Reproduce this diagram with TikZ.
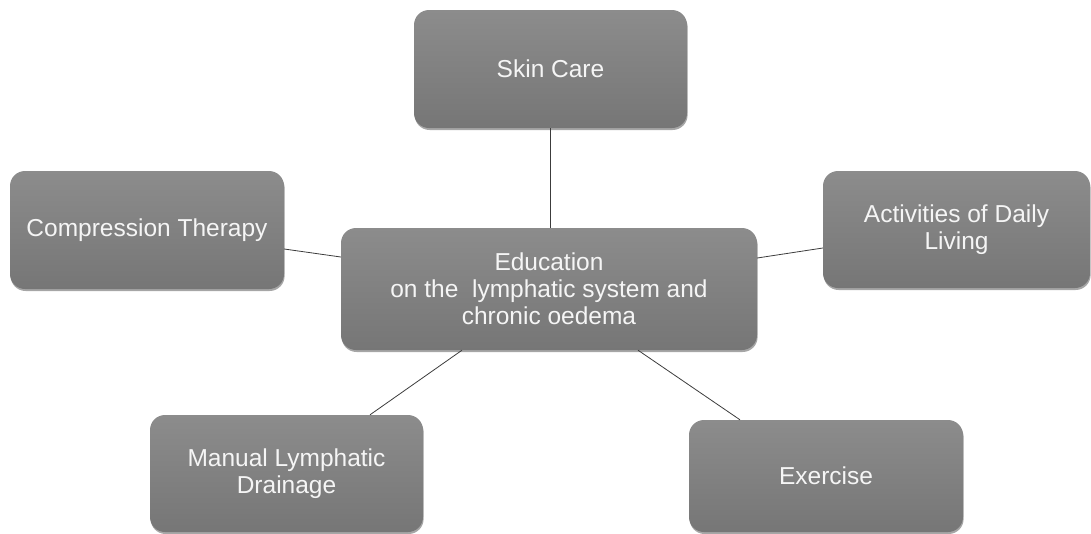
\documentclass[tikz,border=0pt]{standalone}
\usepackage{fontspec}
\setmainfont{Liberation Sans}
\usetikzlibrary{shadows}
\definecolor{boxtop}{RGB}{140,140,140}
\definecolor{boxbottom}{RGB}{118,118,118}
\definecolor{linkgray}{RGB}{60,60,60}
\definecolor{labelwhite}{RGB}{245,245,245}
\tikzset{
  topic/.style={
    rectangle, rounded corners=15pt, inner sep=0pt,
    top color=boxtop, bottom color=boxbottom, draw=none,
    drop shadow={shadow xshift=0.6pt, shadow yshift=-2pt, opacity=0.35, fill=black},
    text=labelwhite, align=center,
    font=\fontsize{24.5}{27}\selectfont
  },
  link/.style={draw=linkgray, line width=0.8pt}
}
\begin{document}
\begin{tikzpicture}[x=1pt, y=-1pt]
  \useasboundingbox (0,0) rectangle (1091,533);

  % topics around the central box
  \node[topic, minimum width=273pt, minimum height=118pt] (skin) at (550.5,69) {Skin Care};
  \node[topic, minimum width=274pt, minimum height=118pt] (comp) at (147,230) {Compression Therapy};
  \node[topic, minimum width=267pt, minimum height=117pt] (adl) at (956.5,229.5) {Activities of Daily\\Living};
  \node[topic, minimum width=273pt, minimum height=117pt] (mld) at (286.5,473.5) {Manual Lymphatic\\Drainage};
  \node[topic, minimum width=274pt, minimum height=112pt] (ex) at (826,476) {Exercise};

  % central box
  \node[topic, minimum width=416pt, minimum height=122pt] (edu) at (549,289)
    {Education\\on the\ \ lymphatic system and\\chronic oedema};

  % links from the central box to each topic
  \draw[link] (skin.south) -- (skin.south |- edu.north);
  \draw[link] ([yshift=-19pt]comp.east) -- ([yshift=32pt]edu.west);
  \draw[link] ([yshift=31pt]edu.east) -- ([yshift=-18.5pt]adl.west);
  \draw[link] ([xshift=-87pt]edu.south) -- ([xshift=83.5pt]mld.north);
  \draw[link] ([xshift=89pt]edu.south) -- ([xshift=-86pt]ex.north);
\end{tikzpicture}
\end{document}
